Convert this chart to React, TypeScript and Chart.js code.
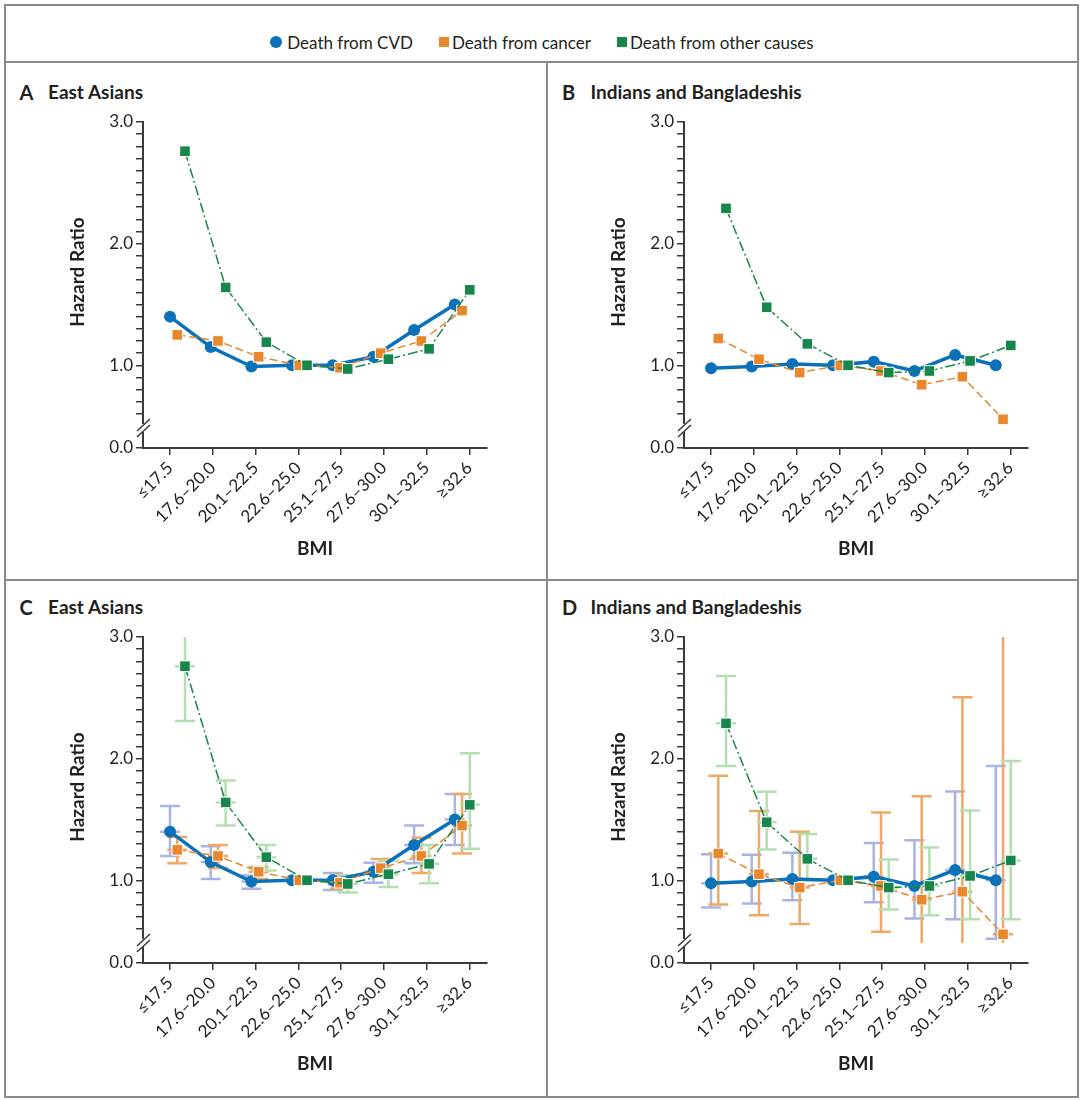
import React, { useEffect, useRef } from 'react';
import { Chart, registerables } from 'chart.js';

Chart.register(...registerables);

// ---------- data ----------
const BMI_CATEGORIES = ['≤17.5', '17.6–20.0', '20.1–22.5', '22.6–25.0', '25.1–27.5', '27.6–30.0', '30.1–32.5', '≥32.6'];
const SERIES_NAMES = ['Death from CVD', 'Death from cancer', 'Death from other causes'];

// East Asians – hazard ratios
const EA_CVD = [1.40, 1.15, 0.99, 1.00, 1.00, 1.07, 1.29, 1.50];
const EA_CANCER = [1.25, 1.20, 1.07, 1.00, 0.98, 1.10, 1.20, 1.45];
const EA_OTHER = [2.76, 1.64, 1.19, 1.00, 0.97, 1.05, 1.135, 1.62];

// East Asians – 95% CI
const EA_CVD_LO = [1.20, 1.01, 0.93, null, 0.92, 0.98, 1.14, 1.29];
const EA_CVD_HI = [1.61, 1.28, 1.04, null, 1.06, 1.145, 1.45, 1.71];
const EA_CANCER_LO = [1.14, 1.10, 1.01, null, 0.93, 1.04, 1.06, 1.22];
const EA_CANCER_HI = [1.355, 1.29, 1.11, null, 1.04, 1.175, 1.35, 1.71];
const EA_OTHER_LO = [2.31, 1.45, 1.08, null, 0.90, 0.945, 0.975, 1.26];
const EA_OTHER_HI = [3.3, 1.82, 1.29, null, 1.04, 1.16, 1.29, 2.045];

// Indians and Bangladeshis – hazard ratios
const IB_CVD = [0.975, 0.99, 1.01, 1.00, 1.03, 0.953, 1.085, 1.00];
const IB_CANCER = [1.22, 1.05, 0.94, 1.00, 0.953, 0.84, 0.906, 0.556];
const IB_OTHER = [2.29, 1.477, 1.176, 1.00, 0.94, 0.953, 1.036, 1.163];

// Indians and Bangladeshis – 95% CI
const IB_CVD_LO = [0.776, 0.81, 0.836, null, 0.82, 0.686, 0.68, 0.52];
const IB_CVD_HI = [1.213, 1.21, 1.227, null, 1.306, 1.33, 1.73, 1.94];
const IB_CANCER_LO = [0.80, 0.713, 0.64, null, 0.576, 0.42, 0.33, 0.10];
const IB_CANCER_HI = [1.86, 1.57, 1.40, null, 1.557, 1.69, 2.505, 3.1];
const IB_OTHER_LO = [1.94, 1.254, 1.00, null, 0.76, 0.713, 0.68, 0.68];
const IB_OTHER_HI = [2.68, 1.727, 1.38, null, 1.17, 1.27, 1.574, 1.98];

// y axis (broken at the bottom: lowest tick is labelled 0.0)
const Y_AXIS_MIN = 0.32;
const Y_AXIS_MAX = 3.0;
const Y_BREAK = 0.485;
const Y_TICKS = [Y_AXIS_MIN, 0.6, 0.7, 0.8, 0.9, 1.0, 1.1, 1.2, 1.3, 1.4, 1.5, 1.6, 1.7, 1.8, 1.9, 2.0, 2.1, 2.2, 2.3, 2.4, 2.5, 2.6, 2.7, 2.8, 2.9, 3.0];
const Y_TICK_LABELS: Record<string, string> = { '0.32': '0.0', '1': '1.0', '2': '2.0', '3': '3.0' };

// ---------- style ----------
const FONT = 'Lato, "Open Sans", "DejaVu Sans", sans-serif';
const TEXT = '#231f20';
const AXIS = '#3a3a3a';
const COLORS = ['#0b72b9', '#e8872b', '#17864a'];
const CI_COLORS = ['#a9b4e5', '#efa865', '#b4dfb1'];
const SERIES_OFFSET = [0, 0.17, 0.35];
const POINT_STEP = 0.951;
const X_MIN = -0.632;
const X_MAX = 7.41;

const errorBarPlugin = {
  id: 'errorBars',
  beforeDatasetsDraw(chart: any) {
    const { ctx, chartArea, scales } = chart;
    const x = scales.x, y = scales.y;
    const clipBottom = y.getPixelForValue(Y_BREAK);
    ctx.save();
    ctx.beginPath();
    ctx.rect(chartArea.left, chartArea.top, chartArea.right - chartArea.left, clipBottom - chartArea.top);
    ctx.clip();
    chart.data.datasets.forEach((ds: any) => {
      if (!ds.ciLo) return;
      ctx.strokeStyle = ds.ciColor;
      ctx.lineWidth = 2.5;
      ds.data.forEach((pt: any, i: number) => {
        const lo = ds.ciLo[i], hi = ds.ciHi[i];
        if (lo == null || hi == null) return;
        const px = x.getPixelForValue(pt.x);
        const ylo = y.getPixelForValue(lo);
        const yhi = y.getPixelForValue(hi);
        const ym = y.getPixelForValue(pt.y);
        ctx.beginPath();
        ctx.moveTo(px, ylo);
        ctx.lineTo(px, yhi);
        [ylo, yhi, ym].forEach((yy) => {
          ctx.moveTo(px - 10, yy);
          ctx.lineTo(px + 10, yy);
        });
        ctx.stroke();
      });
    });
    ctx.restore();
  },
};

const axisDecorPlugin = {
  id: 'axisDecor',
  afterDraw(chart: any) {
    const { ctx, chartArea, scales } = chart;
    const y = scales.y;
    const ax = chartArea.left;
    const yb = y.getPixelForValue(Y_BREAK);
    ctx.save();
    ctx.fillStyle = '#ffffff';
    ctx.fillRect(ax - 3, yb - 4, 6, 8);
    ctx.strokeStyle = AXIS;
    ctx.lineWidth = 1.5;
    [-3, 3].forEach((d) => {
      ctx.beginPath();
      ctx.moveTo(ax - 6, yb + d + 6);
      ctx.lineTo(ax + 7, yb + d - 6);
      ctx.stroke();
    });
    // y axis title
    ctx.fillStyle = TEXT;
    ctx.font = `bold 19px ${FONT}`;
    ctx.textAlign = 'center';
    ctx.textBaseline = 'middle';
    ctx.translate(ax - 65.5, (chartArea.top + chartArea.bottom) / 2 - 13);
    ctx.rotate(-Math.PI / 2);
    ctx.fillText('Hazard Ratio', 0, 0);
    ctx.restore();
  },
};

type PanelProps = {
  left: number;
  top: number;
  values: number[][];
  lo?: (number | null)[][];
  hi?: (number | null)[][];
};

const CANVAS_W = 530;
const CANVAS_H = 505;

function Panel({ left, top, values, lo, hi }: PanelProps) {
  const ref = useRef<HTMLCanvasElement | null>(null);
  useEffect(() => {
    if (!ref.current) return;
    const datasets = values.map((vals, s) => ({
      label: SERIES_NAMES[s],
      data: vals.map((v, i) => ({ x: i * POINT_STEP + SERIES_OFFSET[s], y: v })),
      borderColor: COLORS[s],
      backgroundColor: COLORS[s],
      borderWidth: s === 0 ? 3.5 : 1.5,
      borderDash: s === 0 ? [] : s === 1 ? [8, 4] : [10, 3, 2, 3],
      pointStyle: s === 0 ? 'circle' : 'rect',
      pointRadius: s === 0 ? 6 : 7.5,
      pointBackgroundColor: COLORS[s],
      pointBorderColor: s === 0 ? COLORS[s] : '#ffffff',
      pointBorderWidth: s === 0 ? 0 : 1,
      tension: 0,
      order: 3 - s,
      ciLo: lo ? lo[s] : undefined,
      ciHi: hi ? hi[s] : undefined,
      ciColor: CI_COLORS[s],
    }));
    const chart = new Chart(ref.current, {
      type: 'line',
      data: { datasets } as any,
      plugins: [errorBarPlugin, axisDecorPlugin],
      options: {
        responsive: false,
        animation: false,
        events: [],
        layout: { padding: { top: 52, right: 51, left: 0, bottom: 0 } },
        plugins: { legend: { display: false }, tooltip: { enabled: false } },
        scales: {
          x: {
            type: 'linear',
            min: X_MIN,
            max: X_MAX,
            afterBuildTicks: (axis: any) => {
              axis.ticks = BMI_CATEGORIES.map((_, i) => ({ value: i }));
            },
            afterFit: (scale: any) => {
              scale.height = CANVAS_H - 378;
            },
            ticks: {
              autoSkip: false,
              maxRotation: 45,
              minRotation: 45,
              padding: 3,
              color: TEXT,
              font: { family: FONT, size: 17 },
              callback: (v: any) => BMI_CATEGORIES[Math.round(v)] ?? '',
            },
            grid: { display: true, drawOnChartArea: false, drawTicks: true, tickLength: 7, color: AXIS, lineWidth: 1.5 },
            border: { display: true, color: AXIS, width: 2 },
            title: {
              display: true,
              text: 'BMI',
              color: TEXT,
              font: { family: FONT, size: 19, weight: 'bold' },
              padding: { top: 0, bottom: 14.5 },
            },
          },
          y: {
            type: 'linear',
            min: Y_AXIS_MIN,
            max: Y_AXIS_MAX,
            afterBuildTicks: (axis: any) => {
              axis.ticks = Y_TICKS.map((v) => ({ value: v }));
            },
            afterFit: (scale: any) => {
              scale.width = 135;
            },
            ticks: {
              autoSkip: false,
              padding: 3,
              color: TEXT,
              font: { family: FONT, size: 17 },
              callback: (v: any) => Y_TICK_LABELS[String(Math.round(v * 100) / 100)] ?? '',
            },
            grid: { display: true, drawOnChartArea: false, drawTicks: true, tickLength: 7, color: AXIS, lineWidth: 1.5 },
            border: { display: true, color: AXIS, width: 2 },
          },
        },
      } as any,
    });
    return () => chart.destroy();
  }, []);
  return (
    <canvas
      ref={ref}
      width={CANVAS_W}
      height={CANVAS_H}
      style={{ position: 'absolute', left, top, width: CANVAS_W, height: CANVAS_H }}
    />
  );
}

function PanelTitle({ left, top, letter, text }: { left: number; top: number; letter: string; text: string }) {
  return (
    <div style={{ position: 'absolute', left, top, height: 20, lineHeight: '20px', fontFamily: FONT, fontWeight: 'bold', color: TEXT, whiteSpace: 'nowrap' }}>
      <span style={{ position: 'absolute', left: 0, top: 0, fontSize: 20 }}>{letter}</span>
      <span style={{ position: 'absolute', left: 28.5, top: 0, fontSize: 19 }}>{text}</span>
    </div>
  );
}

export default function App() {
  const line = '#8a8a8a';
  return (
    <div style={{ position: 'absolute', left: 0, top: 0, width: 1081, height: 1100, background: '#fff' }}>
      {/* frame */}
      <div style={{ position: 'absolute', left: 4, top: 4, width: 1075, height: 1094, border: `2px solid ${line}`, boxSizing: 'border-box' }} />
      <div style={{ position: 'absolute', left: 4, top: 61, width: 1075, height: 2, background: line }} />
      <div style={{ position: 'absolute', left: 4, top: 579, width: 1075, height: 2, background: line }} />
      <div style={{ position: 'absolute', left: 546, top: 61, width: 2, height: 1037, background: line }} />

      {/* legend */}
      <div style={{ position: 'absolute', left: 5, top: 30, width: 1074, height: 24, display: 'flex', justifyContent: 'center', alignItems: 'center', fontFamily: FONT, fontSize: 17, color: TEXT }}>
        {SERIES_NAMES.map((name, i) => (
          <div key={name} style={{ display: 'flex', alignItems: 'center', marginLeft: i ? 26 : 0 }}>
            <span
              style={{
                display: 'inline-block',
                width: i === 0 ? 12 : 10,
                height: i === 0 ? 12 : 10,
                borderRadius: i === 0 ? '50%' : 0,
                background: COLORS[i],
                marginRight: i === 0 ? 5 : 3,
              }}
            />
            <span>{name}</span>
          </div>
        ))}
      </div>

      <PanelTitle left={19.5} top={82} letter="A" text="East Asians" />
      <PanelTitle left={562} top={82} letter="B" text="Indians and Bangladeshis" />
      <PanelTitle left={19.5} top={597} letter="C" text="East Asians" />
      <PanelTitle left={562} top={597} letter="D" text="Indians and Bangladeshis" />

      <Panel left={8} top={70} values={[EA_CVD, EA_CANCER, EA_OTHER]} />
      <Panel left={549} top={70} values={[IB_CVD, IB_CANCER, IB_OTHER]} />
      <Panel
        left={8}
        top={585}
        values={[EA_CVD, EA_CANCER, EA_OTHER]}
        lo={[EA_CVD_LO, EA_CANCER_LO, EA_OTHER_LO]}
        hi={[EA_CVD_HI, EA_CANCER_HI, EA_OTHER_HI]}
      />
      <Panel
        left={549}
        top={585}
        values={[IB_CVD, IB_CANCER, IB_OTHER]}
        lo={[IB_CVD_LO, IB_CANCER_LO, IB_OTHER_LO]}
        hi={[IB_CVD_HI, IB_CANCER_HI, IB_OTHER_HI]}
      />
    </div>
  );
}
